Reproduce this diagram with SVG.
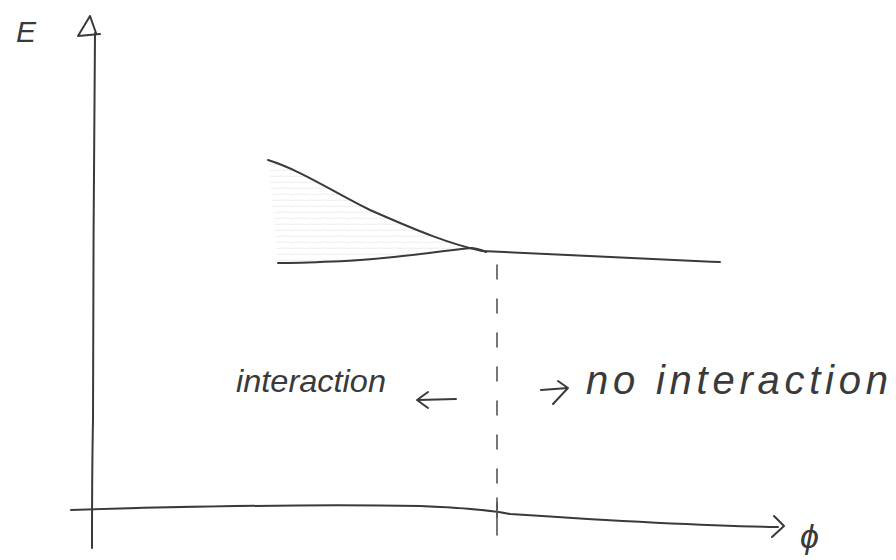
<svg xmlns="http://www.w3.org/2000/svg" width="896" height="560" viewBox="0 0 896 560">
<defs>
<style>
.ln{fill:none;stroke:#3a3a3a;stroke-width:2;stroke-linecap:round;stroke-linejoin:round}
.lt{fill:none;stroke:#555;stroke-width:1.6;stroke-linecap:round;stroke-linejoin:round}
.tx{font-family:"Liberation Sans",Arial,sans-serif;font-style:italic;fill:#3a3a3a}
</style>
<pattern id="hatch" width="14" height="6" patternUnits="userSpaceOnUse">
<line x1="0" y1="2" x2="14" y2="2.5" stroke="#e6e6e6" stroke-width="0.7"/>
</pattern>
</defs>
<rect width="896" height="560" fill="#ffffff"/>
<g id="axes">
<path class="ln" d="M95,33 C94,150 93,300 93,420 C92,470 92,510 92,548"/>
<path class="ln" d="M90,16 L78,36 L100,34 M90,16 L96,33"/>
<path class="ln" d="M71,510 C200,506 300,504 420,506 C470,508 490,510 510,514 C600,520 700,526 778,527"/>
<path class="ln" d="M774,516 L784,526 L772,537"/>
<path class="lt" d="M497,498 L497,535"/>
</g>
<g id="curves">
<path d="M268,160 C300,170 330,190 370,210 C420,232 450,244 480,250 C440,251 400,256 360,262 L278,263 Z" fill="url(#hatch)"/>
<path class="ln" d="M268,160 C300,170 330,190 370,210 C420,232 450,244 482,251 C560,254 640,259 720,262"/>
<path class="ln" d="M278,263 C300,263 320,262 345,261 C400,258 430,252 472,248 C478,249 482,250 486,252"/>
</g>
<g id="divider">
<path class="lt" d="M497,265 L497,530" stroke-dasharray="14,20"/>
</g>
<g id="labels">
<text class="tx" x="16" y="42" font-size="30">E</text>
<text class="tx" x="236" y="392" font-size="32" textLength="150" lengthAdjust="spacingAndGlyphs">interaction</text>
<path class="ln" d="M456,399 L418,400 M428,392 L417,400 L428,408"/>
<path class="ln" d="M541,390 L568,388 M558,381 L568,388 L553,404"/>
<text class="tx" x="586" y="394" font-size="40" textLength="302" lengthAdjust="spacing">no interaction</text>
<text class="tx" x="800" y="548" font-size="34">ϕ</text>
</g>
</svg>
